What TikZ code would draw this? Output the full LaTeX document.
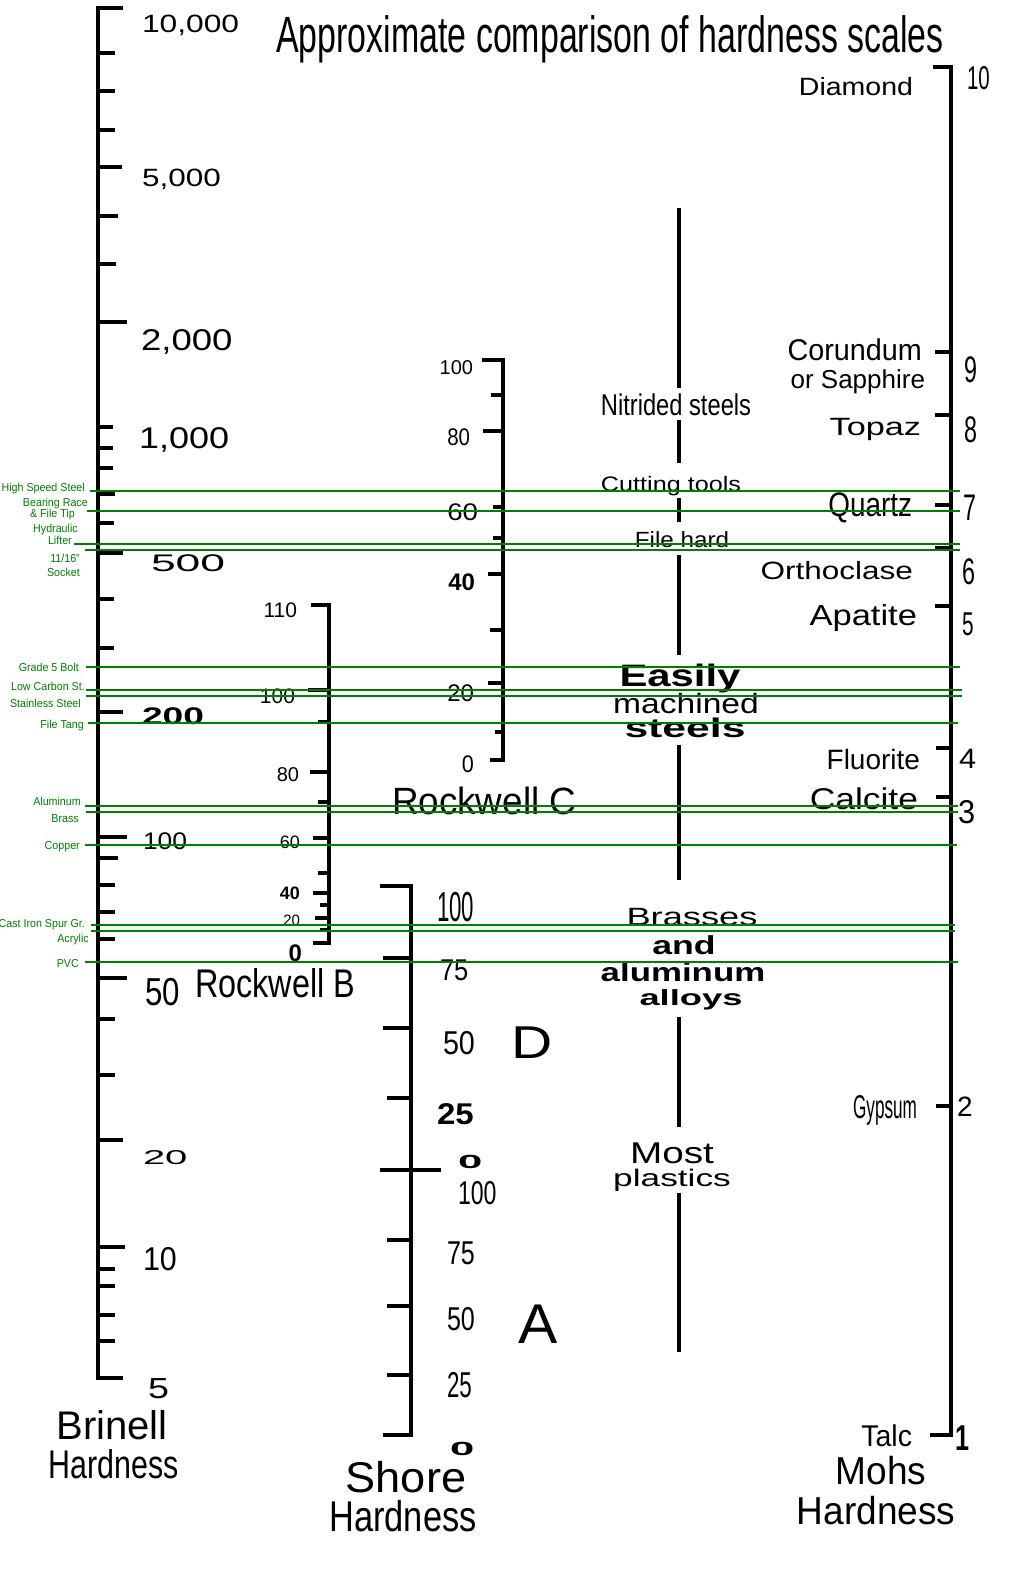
\documentclass[tikz,border=0pt]{standalone}
\usepackage{fontspec}
\setmainfont{Liberation Sans}
\usepackage{graphicx}
\usepackage{xcolor}
\definecolor{metalgreen}{RGB}{0,128,0}
\newcommand{\fs}[1]{\fontsize{#1}{#1}\selectfont}
\newcommand{\hs}[2]{\scalebox{#1}[1]{#2}}

\begin{document}
\begin{tikzpicture}[x=1pt, y=-1pt, text depth=0pt]
	\tikzstyle {Axis}  = [line width=4pt]
	\tikzstyle {Scale} = [line width=3.5pt]
	\tikzstyle {Metal} = [draw=metalgreen, line width=2.9pt]
	\tikzstyle {Label} = [inner sep=0pt, outer sep=0pt, yshift=-2pt]
	\tikzstyle {Tag}   = [inner sep=0pt, text=metalgreen, anchor=east, yshift=-1pt]

	\fill[white] (0,0) rectangle (1024,1573);
	\useasboundingbox (0,0) rectangle (1024,1573);

	% title
	\node[Label] (Title) at (610,32) {\fs{51}\hs{0.665}{Approximate comparison of hardness scales}};

	% Brinell
	\draw[Axis] (123,8) -- (98,8) -- (98,1378) -- (123,1378);
	\draw[Axis] (98,53) -- (115,53) (98,91) -- (115,91) (98,130) -- (115,130) (98,167) -- (122,167)
		(98,216) -- (118,216) (98,264) -- (116,264) (98,322) -- (127,322) (98,427) -- (113,427)
		(98,448) -- (113,448) (98,468) -- (113,468) (98,494) -- (115,494) (98,523) -- (114,523)
		(98,553) -- (123,553) (98,599) -- (114,599) (98,648) -- (114,648) (98,712) -- (123,712)
		(98,837) -- (127,837) (98,858) -- (118,858) (98,885) -- (115,885) (98,912) -- (115,912)
		(98,939) -- (115,939) (98,978) -- (127,978) (98,1019) -- (115,1019) (98,1075) -- (115,1075)
		(98,1140) -- (123,1140) (98,1247) -- (125,1247) (98,1269) -- (115,1269) (98,1286) -- (115,1286)
		(98,1315) -- (115,1315) (98,1341) -- (115,1341);
	\node[Label, anchor=west] (Brinell-10000) at (142,22) {\fs{25}\hs{1.27}{10,000}};
	\node[Label, anchor=west] (Brinell-5000) at (142,176) {\fs{25}\hs{1.26}{5,000}};
	\node[Label, anchor=west] (Brinell-2000) at (141,338) {\fs{30}\hs{1.22}{2,000}};
	\node[Label, anchor=west] (Brinell-1000) at (139,436) {\fs{30}\hs{1.2}{1,000}};
	\node[Label, anchor=west] (Brinell-500) at (151,561) {\fs{24}\hs{1.85}{500}};
	\node[Label, anchor=west] (Brinell-200) at (142,714) {\fs{24}\hs{1.55}{\bfseries 200}};
	\node[Label, anchor=west] (Brinell-100) at (143,839) {\fs{24}\hs{1.1}{100}};
	\node[Label, anchor=west] (Brinell-50) at (145,990) {\fs{39}\hs{0.8}{50}};
	\node[Label, anchor=west] (Brinell-20) at (143,1156) {\fs{20}\hs{2.0}{20}};
	\node[Label, anchor=west] (Brinell-10) at (143,1257) {\fs{33}\hs{0.92}{10}};
	\node[Label, anchor=west] (Brinell-5) at (148,1387) {\fs{29}\hs{1.3}{5}};
	\node[Label] (Brinell) at (112,1423) {\fs{40}Brinell};
	\node[Label] (Brinell-h) at (114,1462) {\fs{40}\hs{0.76}{Hardness}};

	% Rockwell B
	\draw[Scale] (311,605) -- (329,605) -- (329,943) -- (313,943);
	\draw[Scale] (308,690) -- (329,690) (318,722) -- (329,722) (310,772) -- (329,772) (318,802) -- (329,802)
		(313,838) -- (329,838) (318,873) -- (329,873) (313,893) -- (329,893) (320,905) -- (329,905)
		(315,918) -- (329,918) (320,930) -- (329,930);
	\node[Label, anchor=east] (RB-110) at (297,608) {\fs{21}110};
	\node[Label, anchor=east] (RB-100) at (295,694) {\fs{21}100};
	\node[Label, anchor=east] (RB-80) at (299,773) {\fs{20}80};
	\node[Label, anchor=east] (RB-60) at (300,840) {\fs{18}60};
	\node[Label, anchor=east] (RB-40) at (300,891) {\fs{18}\bfseries 40};
	\node[Label, anchor=east] (RB-20) at (300,918) {\fs{15}20};
	\node[Label, anchor=east] (RB-0) at (302,951) {\fs{24}\bfseries 0};
	\node[Label, anchor=west] (RB) at (195,981) {\fs{40}\hs{0.81}{Rockwell B}};

	% Rockwell C
	\draw[Scale] (482,360) -- (503,360) -- (503,760) -- (490,760);
	\draw[Scale] (491,395) -- (503,395) (483,431) -- (503,431) (493,507) -- (503,507) (493,538) -- (503,538)
		(488,574) -- (503,574) (490,630) -- (503,630) (488,683) -- (503,683) (495,732) -- (503,732);
	\node[Label, anchor=east] (RC-100) at (473,366) {\fs{20}100};
	\node[Label, anchor=east] (RC-80) at (470,435) {\fs{24}\hs{0.85}{80}};
	\node[Label, anchor=east] (RC-60) at (478,510) {\fs{24}\hs{1.15}{60}};
	\node[Label, anchor=east] (RC-40) at (475,580) {\fs{24}\bfseries 40};
	\node[Label, anchor=east] (RC-20) at (474,691) {\fs{24}20};
	\node[Label, anchor=east] (RC-0) at (474,762) {\fs{24}\hs{0.9}{0}};
	\node[Label, anchor=west] (RC) at (392,799) {\fs{38}\hs{0.97}{Rockwell C}};

	% Shore D and A
	\draw[Scale] (380,886) -- (411,886) -- (411,1435) -- (383,1435);
	\draw[Scale] (383,958) -- (411,958) (383,1028) -- (411,1028) (387,1098) -- (411,1098) (380,1170) -- (441,1170)
		(387,1240) -- (411,1240) (387,1306) -- (411,1306) (387,1375) -- (411,1375);
	\node[Label, anchor=west] (SD-100) at (437,905) {\fs{42}\hs{0.53}{100}};
	\node[Label, anchor=west] (SD-75) at (440,968) {\fs{30}\hs{0.85}{75}};
	\node[Label, anchor=west] (SD-50) at (443,1041) {\fs{33}\hs{0.87}{50}};
	\node[Label, anchor=west] (SD-25) at (437,1112) {\fs{30}\hs{1.1}{\bfseries 25}};
	\node[Label, anchor=west] (SD-0) at (458,1160) {\fs{19}\hs{2.3}{\bfseries 0}};
	\node[Label, anchor=west] (SA-100) at (458,1191) {\fs{33}\hs{0.7}{100}};
	\node[Label, anchor=west] (SA-75) at (447,1251) {\fs{33}\hs{0.76}{75}};
	\node[Label, anchor=west] (SA-50) at (447,1317) {\fs{33}\hs{0.76}{50}};
	\node[Label, anchor=west] (SA-25) at (447,1383) {\fs{36}\hs{0.62}{25}};
	\node[Label, anchor=west] (SA-0) at (450,1447) {\fs{19}\hs{2.3}{\bfseries 0}};
	\node[Label, anchor=west] (Shore-D) at (511,1041) {\fs{46}\hs{1.24}{D}};
	\node[Label, anchor=west] (Shore-A) at (518,1322) {\fs{56}\hs{1.05}{A}};
	\node[Label] (Shore) at (406,1475) {\fs{43}\hs{1.05}{Shore}};
	\node[Label] (Shore-h) at (403,1514) {\fs{43}\hs{0.8}{Hardness}};

	% materials in the middle
	\draw[Scale] (679,208) -- (679,388) (679,420) -- (679,463) (679,498) -- (679,522) (679,555) -- (679,655)
		(679,745) -- (679,880) (679,1017) -- (679,1127) (679,1193) -- (679,1352);
	\node[Label] (Nitrided) at (676,403) {\fs{30}\hs{0.79}{Nitrided steels}};
	\node[Label] (Cutting) at (671,482) {\fs{21}\hs{1.2}{Cutting tools}};
	\node[Label] (File-hard) at (682,538) {\fs{22}\hs{1.1}{File hard}};
	\node[Label] (Easily) at (680,673) {\fs{31}\hs{1.35}{\bfseries Easily}};
	\node[Label] (Machined) at (686,701) {\fs{28}\hs{1.2}{machined}};
	\node[Label] (Steels) at (685,726) {\fs{27}\hs{1.58}{\bfseries steels}};
	\node[Label] (Brasses) at (692,915) {\fs{25}\hs{1.45}{Brasses}};
	\node[Label] (And) at (684,943) {\fs{26}\hs{1.37}{\bfseries and}};
	\node[Label] (Aluminum) at (683,970) {\fs{26}\hs{1.34}{\bfseries aluminum}};
	\node[Label] (Alloys) at (691,996) {\fs{22}\hs{1.65}{\bfseries alloys}};
	\node[Label] (Most) at (672,1151) {\fs{30}\hs{1.29}{Most}};
	\node[Label] (Plastics) at (672,1176) {\fs{24}\hs{1.47}{plastics}};

	% Mohs
	\draw[Scale] (933,67) -- (951,67) -- (951,1435) -- (930,1435);
	\draw[Scale] (935,352) -- (951,352) (935,415) -- (951,415) (935,505) -- (951,505) (935,548) -- (951,548)
		(935,606) -- (951,606) (936,748) -- (951,748) (936,797) -- (951,797) (936,1106) -- (951,1106);
	\node[Label, anchor=west] (Mohs-10) at (967,76) {\fs{33}\hs{0.62}{10}};
	\node[Label, anchor=west] (Mohs-9) at (964,368) {\fs{37}\hs{0.63}{9}};
	\node[Label, anchor=west] (Mohs-8) at (964,428) {\fs{37}\hs{0.63}{8}};
	\node[Label, anchor=west] (Mohs-7) at (963,506) {\fs{37}\hs{0.63}{7}};
	\node[Label, anchor=west] (Mohs-6) at (962,570) {\fs{37}\hs{0.63}{6}};
	\node[Label, anchor=west] (Mohs-5) at (962,622) {\fs{33}\hs{0.63}{5}};
	\node[Label, anchor=west] (Mohs-4) at (959,757) {\fs{28}\hs{1.1}{4}};
	\node[Label, anchor=west] (Mohs-3) at (958,810) {\fs{33}\hs{0.93}{3}};
	\node[Label, anchor=west] (Mohs-2) at (957,1105) {\fs{28}2};
	\node[Label, anchor=west] (Mohs-1) at (955,1436) {\fs{36}\hs{0.7}{\bfseries 1}};
	\node[Label, anchor=east] (Diamond) at (913,84) {\fs{25}\hs{1.14}{Diamond}};
	\node[Label, anchor=east] (Corundum) at (922,348) {\fs{30}\hs{0.96}{Corundum}};
	\node[Label, anchor=east] (Sapphire) at (925,377) {\fs{26}or Sapphire};
	\node[Label, anchor=east] (Topaz) at (921,425) {\fs{25}\hs{1.37}{Topaz}};
	\node[Label, anchor=east] (Quartz) at (912,503) {\fs{34}\hs{0.82}{Quartz}};
	\node[Label, anchor=east] (Orthoclase) at (913,568) {\fs{25}\hs{1.26}{Orthoclase}};
	\node[Label, anchor=east] (Apatite) at (917,613) {\fs{29}\hs{1.19}{Apatite}};
	\node[Label, anchor=east] (Fluorite) at (920,757) {\fs{28}Fluorite};
	\node[Label, anchor=east] (Calcite) at (918,797) {\fs{30}\hs{1.18}{Calcite}};
	\node[Label, anchor=east] (Gypsum) at (917,1105) {\fs{33}\hs{0.52}{Gypsum}};
	\node[Label, anchor=east] (Talc) at (912,1434) {\fs{30}\hs{0.95}{Talc}};
	\node[Label] (Mohs) at (881,1468) {\fs{39}\hs{0.95}{Mohs}};
	\node[Label] (Mohs-h) at (876,1508) {\fs{39}\hs{0.95}{Hardness}};

	% green metals
	\node[Tag] (Tag-hss) at (85,486) {\fs{11.5}\hs{0.93}{High Speed Steel}};
	\node[Tag] (Tag-bearing) at (88,501) {\fs{11.5}\hs{0.93}{Bearing Race}};
	\node[Tag] (Tag-filetip) at (75,512) {\fs{11.5}\hs{0.93}{\& File Tip}};
	\node[Tag] (Tag-hydraulic) at (78,527) {\fs{11.5}\hs{0.93}{Hydraulic}};
	\node[Tag] (Tag-lifter) at (72,539) {\fs{11.5}\hs{0.93}{Lifter}};
	\node[Tag] (Tag-1116) at (80,557) {\fs{11.5}\hs{0.93}{11/16"}};
	\node[Tag] (Tag-socket) at (80,571) {\fs{11.5}\hs{0.93}{Socket}};
	\node[Tag] (Tag-grade5) at (79,666) {\fs{11.5}\hs{0.93}{Grade 5 Bolt}};
	\node[Tag] (Tag-lowcarbon) at (85,685) {\fs{11.5}\hs{0.93}{Low Carbon St.}};
	\node[Tag] (Tag-stainless) at (81,702) {\fs{11.5}\hs{0.93}{Stainless Steel}};
	\node[Tag] (Tag-filetang) at (84,723) {\fs{11.5}\hs{0.93}{File Tang}};
	\node[Tag] (Tag-aluminum) at (81,800) {\fs{11.5}\hs{0.93}{Aluminum}};
	\node[Tag] (Tag-brass) at (79,818) {\fs{11.5}\hs{0.93}{Brass}};
	\node[Tag] (Tag-copper) at (80,844) {\fs{11.5}\hs{0.93}{Copper}};
	\node[Tag] (Tag-castiron) at (85,922) {\fs{11.5}\hs{0.93}{Cast Iron Spur Gr.}};
	\node[Tag] (Tag-acrylic) at (89,937) {\fs{11.5}\hs{0.93}{Acrylic}};
	\node[Tag] (Tag-pvc) at (79,962) {\fs{11.5}\hs{0.93}{PVC}};

	\draw[Metal] (90,491) -- (960,491) (87,511) -- (960,511) (74,544) -- (960,544) (85,550) -- (960,550)
		(86,667) -- (960,667) (86,690) -- (962,690) (86,696) -- (962,696) (88,723) -- (958,723)
		(85,806) -- (958,806) (86,812) -- (958,812) (85,845) -- (957,845) (91,925) -- (955,925)
		(91,931) -- (955,931) (85,962) -- (958,962);
\end{tikzpicture}
\end{document}
